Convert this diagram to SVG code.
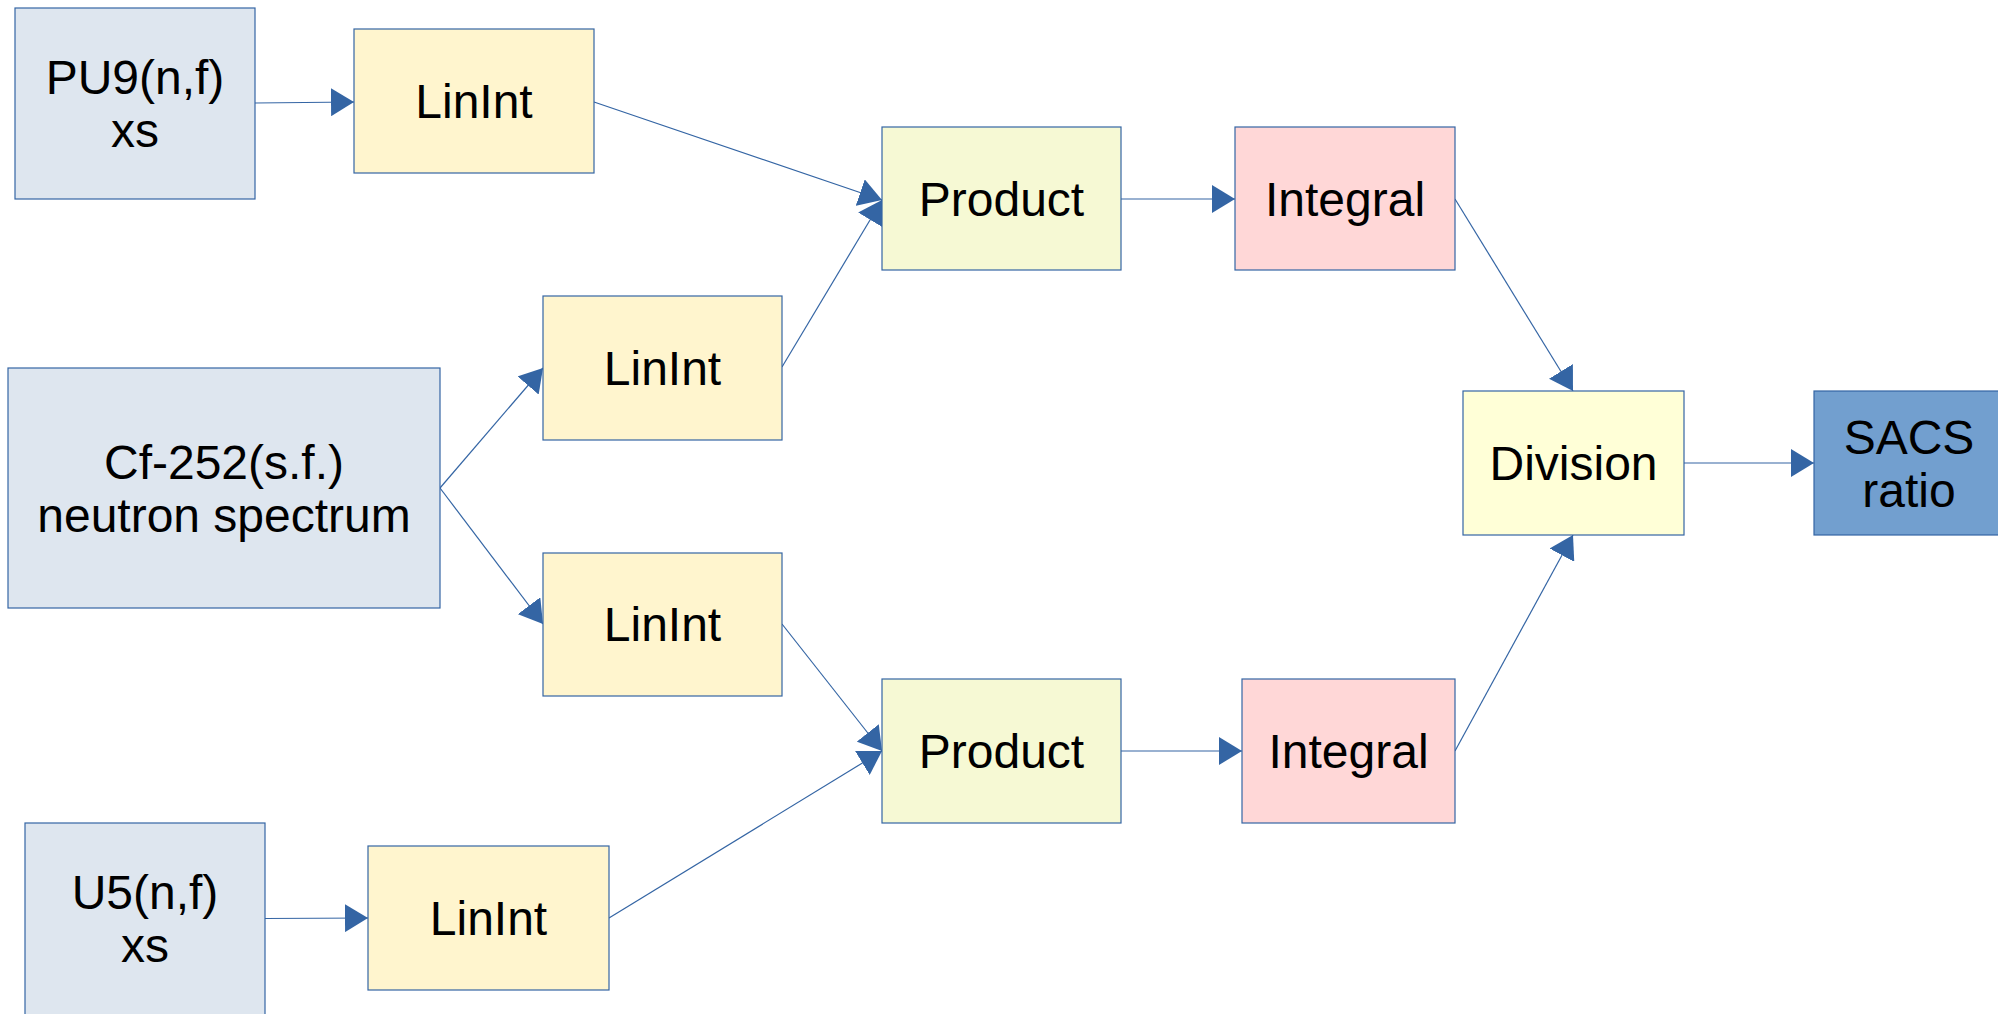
<svg xmlns="http://www.w3.org/2000/svg" width="1998" height="1014" viewBox="0 0 1998 1014">
<style>
.box{stroke:#3465a4;stroke-width:1.2}
.src{fill:#dee6ef}
.lin{fill:#fff5ce}
.prod{fill:#f6f9d4}
.int{fill:#ffd7d7}
.div{fill:#ffffd7}
.res{fill:#729fcf}
text{font-family:"Liberation Sans",Arial,sans-serif;font-size:48px;fill:#000;text-anchor:middle}
.conn line{stroke:#3465a4;stroke-width:1.2;fill:none;marker-end:url(#ah)}
</style>
<defs>
<marker id="ah" markerUnits="userSpaceOnUse" markerWidth="23" markerHeight="28" refX="23" refY="14" orient="auto" viewBox="0 0 23 28">
<path d="M0,0 L23,14 L0,28 Z" fill="#3465a4"/>
</marker>
</defs>
<rect width="1998" height="1014" fill="#fff"/>
<g class="conn" id="connectors">
<line x1="255" y1="103" x2="354" y2="102"/>
<line x1="594" y1="102" x2="882" y2="200"/>
<line x1="782" y1="367" x2="882" y2="200"/>
<line x1="440" y1="488" x2="543" y2="368"/>
<line x1="440" y1="488" x2="543" y2="624"/>
<line x1="782" y1="624" x2="882" y2="751"/>
<line x1="609" y1="918" x2="882" y2="751"/>
<line x1="265" y1="918.5" x2="368" y2="918"/>
<line x1="1121" y1="199" x2="1235" y2="199"/>
<line x1="1121" y1="751" x2="1242" y2="751"/>
<line x1="1455" y1="199" x2="1573" y2="391"/>
<line x1="1455" y1="751" x2="1573" y2="535"/>
<line x1="1684" y1="463" x2="1814" y2="463"/>
</g>
<g id="pu9">
<rect class="box src" x="15" y="8" width="240" height="191"/>
<text x="135" y="94">PU9(n,f)</text>
<text x="135" y="147">xs</text>
</g>
<g id="linint1">
<rect class="box lin" x="354" y="29" width="240" height="144"/>
<text x="474" y="118">LinInt</text>
</g>
<g id="cf252">
<rect class="box src" x="8" y="368" width="432" height="240"/>
<text x="224" y="479">Cf-252(s.f.)</text>
<text x="224" y="532">neutron spectrum</text>
</g>
<g id="linint2">
<rect class="box lin" x="543" y="296" width="239" height="144"/>
<text x="662.5" y="385">LinInt</text>
</g>
<g id="linint3">
<rect class="box lin" x="543" y="553" width="239" height="143"/>
<text x="662.5" y="641">LinInt</text>
</g>
<g id="u5">
<rect class="box src" x="25" y="823" width="240" height="193"/>
<text x="145" y="909">U5(n,f)</text>
<text x="145" y="962">xs</text>
</g>
<g id="linint4">
<rect class="box lin" x="368" y="846" width="241" height="144"/>
<text x="488.5" y="935">LinInt</text>
</g>
<g id="product1">
<rect class="box prod" x="882" y="127" width="239" height="143"/>
<text x="1001.5" y="216">Product</text>
</g>
<g id="integral1">
<rect class="box int" x="1235" y="127" width="220" height="143"/>
<text x="1345" y="216">Integral</text>
</g>
<g id="product2">
<rect class="box prod" x="882" y="679" width="239" height="144"/>
<text x="1001.5" y="768">Product</text>
</g>
<g id="integral2">
<rect class="box int" x="1242" y="679" width="213" height="144"/>
<text x="1348.5" y="768">Integral</text>
</g>
<g id="division">
<rect class="box div" x="1463" y="391" width="221" height="144"/>
<text x="1573.5" y="480">Division</text>
</g>
<g id="sacs">
<rect class="box res" x="1814" y="391" width="190" height="144"/>
<text x="1909" y="454">SACS</text>
<text x="1909" y="507">ratio</text>
</g>
</svg>
